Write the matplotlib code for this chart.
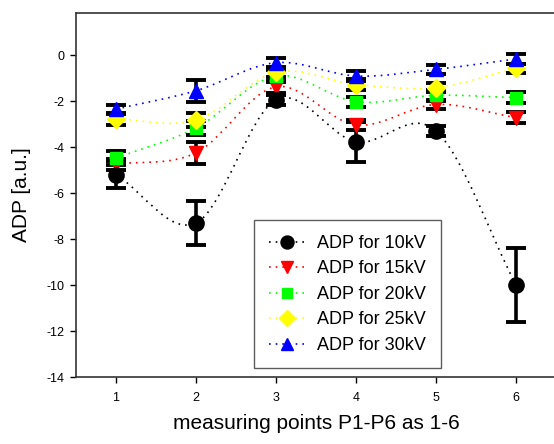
import numpy as np
import matplotlib
matplotlib.use('Agg')
from matplotlib import pyplot as plt
from matplotlib.path import Path
from matplotlib.patches import PathPatch
from matplotlib.lines import Line2D

plt.rcParams['font.family'] = ['Liberation Sans', 'DejaVu Sans']
plt.rcParams['axes.unicode_minus'] = False

points = [1, 2, 3, 4, 5, 6]
labels = ['ADP for 10kV', 'ADP for 15kV', 'ADP for 20kV', 'ADP for 25kV', 'ADP for 30kV']

adp_10 = [-5.2, -7.3, -1.95, -3.77, -3.3, -10.0]
adp_15 = [-4.75, -4.25, -1.38, -3.04, -2.15, -2.72]
adp_20 = [-4.48, -3.17, -0.91, -2.03, -1.75, -1.85]
adp_25 = [-2.78, -2.83, -0.75, -1.28, -1.41, -0.58]
adp_30 = [-2.35, -1.55, -0.33, -0.91, -0.62, -0.17]

err_10 = [0.58, 0.95, 0.22, 0.86, 0.2, 1.6]
err_15 = [0.25, 0.47, 0.25, 0.22, 0.2, 0.25]
err_20 = [0.3, 0.3, 0.25, 0.22, 0.25, 0.25]
err_25 = [0.25, 0.3, 0.2, 0.22, 0.2, 0.2]
err_30 = [0.2, 0.47, 0.2, 0.2, 0.2, 0.2]

series = [adp_10, adp_15, adp_20, adp_25, adp_30]
errors = [err_10, err_15, err_20, err_25, err_30]
colors = ['black', '#ff0000', '#00ff00', '#ffff00', '#0000ff']
markers = ['o', 'v', 's', 'D', '^']
msizes = [11, 10, 8.5, 9, 10]
zorders = [9, 5, 6, 7, 8]


def smooth_path(x, y):
    # catmull-rom segments written as cubic bezier pieces
    x = np.asarray(x, float)
    y = np.asarray(y, float)
    pts = np.column_stack([x, y])
    ext = np.vstack([2 * pts[0] - pts[1], pts, 2 * pts[-1] - pts[-2]])
    verts = [tuple(pts[0])]
    codes = [Path.MOVETO]
    for i in range(1, len(ext) - 2):
        p0, p1, p2, p3 = ext[i - 1], ext[i], ext[i + 1], ext[i + 2]
        c1 = p1 + (p2 - p0) / 6.0
        c2 = p2 - (p3 - p1) / 6.0
        verts += [tuple(c1), tuple(c2), tuple(p2)]
        codes += [Path.CURVE4] * 3
    return Path(verts, codes)


fig = plt.figure(figsize=(5.54, 4.44), dpi=100)
ax = fig.add_axes([76 / 554, 67 / 444, 480 / 554, 364 / 444])

dots = (0, (1, 3))
handles = []
for vals, err, c, m, ms, z in zip(series, errors, colors, markers, msizes, zorders):
    patch = PathPatch(smooth_path(points, vals), facecolor='none', edgecolor=c,
                      linewidth=1.2, linestyle=dots, zorder=2)
    ax.add_patch(patch)
    ax.errorbar(points, vals, yerr=err, fmt='none', ecolor='black',
                elinewidth=2.6, capsize=7, capthick=2.8, zorder=3)
    ax.plot(points, vals, linestyle='none', marker=m, markersize=ms,
            markerfacecolor=c, markeredgecolor=c, zorder=z)
    handles.append(Line2D([], [], color=c, linestyle=dots, linewidth=1.2,
                          marker=m, markersize=ms * 0.85, markerfacecolor=c,
                          markeredgecolor=c))

ax.set_xlim(0.5, 6.5)
ax.set_ylim(-14, 1.83)
ax.set_xticks(points)
ax.set_yticks(np.arange(-14, 1, 2))
ax.tick_params(direction='out', length=4, width=1, labelsize=9, colors='black')
ax.tick_params(axis='x', pad=7)
ax.tick_params(axis='y', pad=4.5)
for s in ['left', 'top', 'bottom']:
    ax.spines[s].set_color('#333333')
    ax.spines[s].set_linewidth(1.2)
ax.spines['right'].set_visible(False)

ax.set_xlabel('measuring points P1-P6 as 1-6', fontsize=15, labelpad=7)
ax.set_ylabel('ADP [a.u.]', fontsize=15, labelpad=11)

leg = ax.legend(handles, labels, loc='lower left', bbox_to_anchor=(0.371, 0.024),
                fontsize=13, frameon=True, fancybox=False, edgecolor='#333333',
                handlelength=2.1, labelspacing=0.47, borderpad=0.8,
                handletextpad=0.6, borderaxespad=0)
leg.get_frame().set_linewidth(1.0)
leg.set_zorder(20)

fig.savefig('out.png', dpi=100)
